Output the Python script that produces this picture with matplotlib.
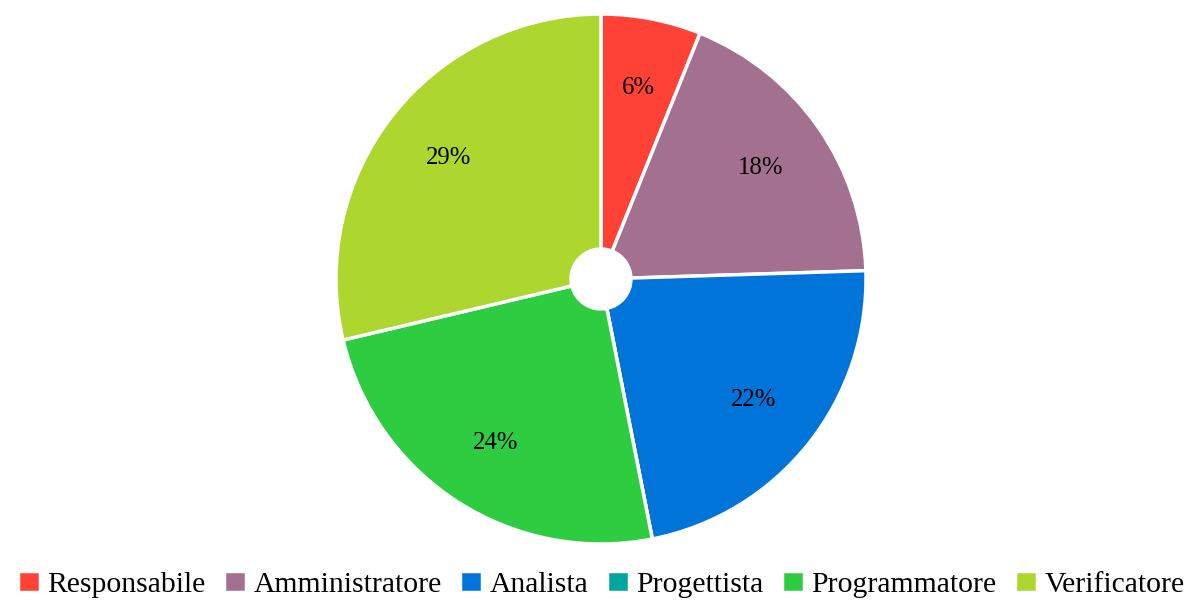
import matplotlib.pyplot as plt

plt.rcParams["font.family"] = ["Liberation Serif", "DejaVu Serif"]

roles = ["Responsabile", "Amministratore", "Analista", "Progettista", "Programmatore", "Verificatore"]
shares = [6.1, 18.4, 22.4, 0.0, 24.4, 28.7]
colors = ["#ff4136", "#a3708f", "#0074d9", "#00a69c", "#2ecc40", "#add72f"]


def fmt_pct(p):
    return "" if p < 0.5 else f"{p:.0f}%"


fig = plt.figure(figsize=(12.02, 6.01), dpi=100)
ax = fig.add_axes([(601 - 265) / 1202, 57 / 601, 530 / 1202, 530 / 601])

wedges, texts, autotexts = ax.pie(
    shares,
    colors=colors,
    startangle=90,
    counterclock=False,
    autopct=fmt_pct,
    pctdistance=0.735,
    radius=1.0,
    wedgeprops=dict(width=1 - 0.113, edgecolor="white", linewidth=2.5),
    textprops=dict(fontsize=17.8, color="black"),
)
ax.set_xlim(-1, 1)
ax.set_ylim(-1, 1)
ax.set_aspect("equal")
ax.axis("off")

fig.legend(
    wedges,
    roles,
    loc="lower center",
    bbox_to_anchor=(0.5, -0.024),
    ncol=6,
    frameon=False,
    fontsize=21.3,
    handlelength=0.75,
    handleheight=0.75,
    handletextpad=0.25,
    columnspacing=0.62,
    borderaxespad=0.2,
)

fig.savefig("out.png", dpi=100)
